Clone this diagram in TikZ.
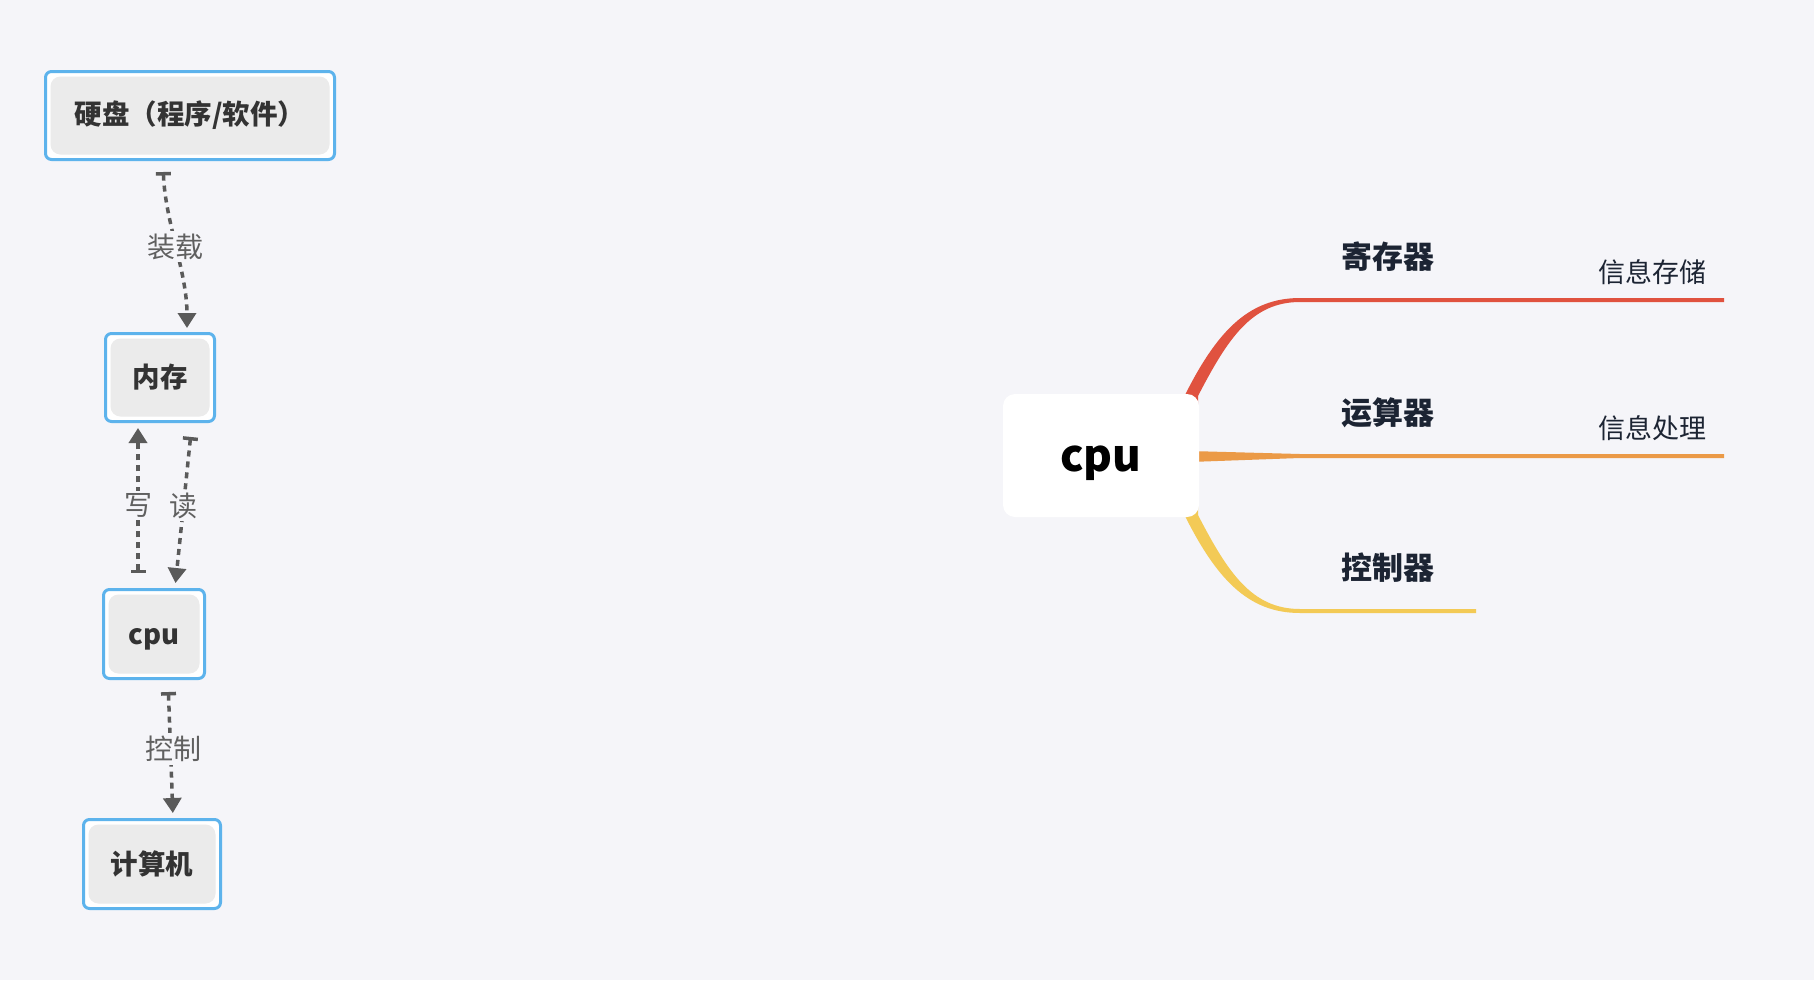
\documentclass[tikz,border=0pt]{standalone}
\usepackage{fontspec}
\setmainfont{Noto Sans CJK SC}
\usetikzlibrary{arrows.meta}
\definecolor{bg}{HTML}{F5F5F9}
\definecolor{boxblue}{HTML}{5DB3EC}
\definecolor{boxgrey}{HTML}{EBEBEB}
\definecolor{boxtext}{HTML}{333333}
\definecolor{linkgrey}{HTML}{5A5A5A}
\definecolor{lblgrey}{HTML}{606060}
\definecolor{brred}{HTML}{E0523F}
\definecolor{brorange}{HTML}{EB9A47}
\definecolor{bryellow}{HTML}{F3CA56}
\definecolor{mmtext}{HTML}{1C2433}
\tikzset{
  flowbox/.style={draw=boxblue, line width=3pt, fill=white, rounded corners=6pt,
    inner sep=0pt, text=boxtext, font=\fontsize{27.5}{32}\selectfont\bfseries,
    path picture={\fill[boxgrey, rounded corners=10pt]
      ([shift={(5pt,5pt)}]path picture bounding box.south west) rectangle
      ([shift={(-5pt,-5pt)}]path picture bounding box.north east);}},
  link/.style={draw=linkgrey, line width=3.5pt, dash pattern=on 6pt off 5pt,
    {Bar[width=15pt,line width=3.5pt]}-{Triangle[width=18pt,length=15pt]}},
  lbl/.style={fill=bg, inner sep=3pt, text=lblgrey, font=\fontsize{28}{32}\selectfont},
  topic/.style={text=mmtext, font=\fontsize{31}{36}\selectfont\bfseries, inner sep=0pt},
  subtopic/.style={text=mmtext, font=\fontsize{27}{32}\selectfont, inner sep=0pt},
  central/.style={fill=white, rounded corners=12pt, minimum width=196pt, minimum height=123pt,
    inner sep=0pt, text=black, font=\fontsize{44}{52}\selectfont\bfseries}
}
\begin{document}
\begin{tikzpicture}[x=1pt,y=-1pt]
\fill[bg] (0,0) rectangle (1814,980);
\useasboundingbox (0,0) rectangle (1814,980);

% left flow
\node[flowbox, minimum width=289pt, minimum height=88pt] (hd) at (190,115.5) {硬盘（程序/软件）};
\node[flowbox, minimum width=109pt, minimum height=88pt] (mem) at (160,377.5) {内存};
\node[flowbox, minimum width=101pt, minimum height=89pt] (cpu) at (154,634) {\smash{\raisebox{-10pt}{cpu}}};
\node[flowbox, minimum width=137pt, minimum height=89pt] (comp) at (152,864) {计算机};

\draw[link, shorten <=11pt, shorten >=4pt] ([xshift=-27pt]hd.south)
  .. controls +(2,60) and +(0,-60) .. ([xshift=27pt]mem.north)
  node[lbl, midway] {装载};
\draw[link, shorten <=15pt, shorten >=5pt] ([xshift=-16pt]cpu.north) -- ([xshift=-22pt]mem.south)
  node[lbl, midway] {写};
\draw[link, shorten <=14pt, shorten >=5pt] ([xshift=32pt]mem.south) -- ([xshift=21pt]cpu.north)
  node[lbl, midway] {读};
\draw[link, shorten <=12pt, shorten >=5pt] ([xshift=14pt]cpu.south) -- ([xshift=21pt]comp.north)
  node[lbl, midway, xshift=3pt] {控制};

% mind map branches
\coordinate (redend) at (1724,300);
\coordinate (orangeend) at (1724,456);
\coordinate (yellowend) at (1476,611);
\fill[brred] (1183,405) -- (1183,399) .. controls (1216,332) and (1248,298) .. (1300,298)
  -- (redend |- 0,298) -- (redend |- 0,302) -- (1300,302)
  .. controls (1252,302) and (1228,338) .. (1198,396) -- (1198,405) -- cycle;
\fill[brorange] (1190,451) -- (1300,454) -- (orangeend |- 0,454) -- (orangeend |- 0,458)
  -- (1300,458) -- (1190,462) -- cycle;
\fill[bryellow] (1183,506) -- (1183,512) .. controls (1216,579) and (1248,613) .. (1300,613)
  -- (yellowend |- 0,613) -- (yellowend |- 0,609) -- (1300,609)
  .. controls (1252,609) and (1228,573) .. (1198,515) -- (1198,506) -- cycle;

\node[central] (mcpu) at (1101,455.5) {\smash{\raisebox{-16pt}{cpu}}};

\node[topic] (reg) at (1388,257) {寄存器};
\node[topic] (alu) at (1388,413) {运算器};
\node[topic] (ctl) at (1388,568) {控制器};
\node[subtopic] (store) at (1652,272) {信息存储};
\node[subtopic] (proc) at (1652,428) {信息处理};
\end{tikzpicture}
\end{document}
